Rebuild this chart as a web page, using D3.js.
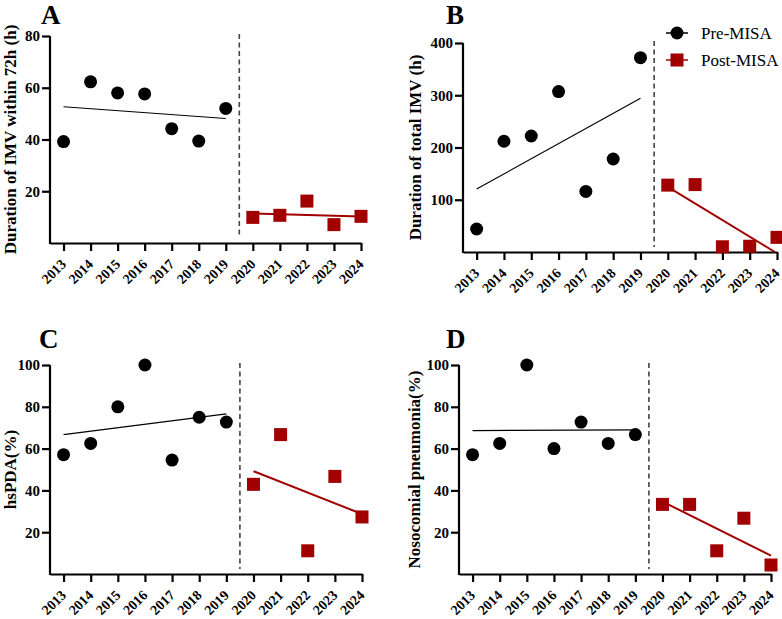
<!DOCTYPE html>
<html>
<head>
<meta charset="utf-8">
<script src="https://cdn.jsdelivr.net/npm/d3@7"></script>
<style>
  body { margin: 0; background: #fff; }
  text { font-family: "Liberation Serif", "Times New Roman", serif; }
</style>
</head>
<body>
<script>
var Width = 782;
var Height = 619;
var red = "#a10000";

// years
var preYears = [2013, 2014, 2015, 2016, 2017, 2018, 2019];
var postYears = [2020, 2021, 2022, 2023, 2024];
var allYears = preYears.concat(postYears);

// values
var preA = [39.2, 62.3, 58.0, 57.6, 44.2, 39.4, 52.0];
var postA = [9.9, 10.7, 16.2, 7.1, 10.3];
var preB = [44, 212, 222, 307, 116, 178, 372];
var postB = [128, 129, 10, 11, 28];
var preC = [57.1, 62.5, 80, 100, 54.5, 75, 72.7];
var postC = [42.9, 66.7, 11.1, 46.7, 27.3];
var preD = [57.1, 62.5, 100, 60, 72.7, 62.5, 66.7];
var postD = [33.3, 33.3, 11.1, 26.7, 4.3];

var ticksA = [20, 40, 60, 80];
var ticksB = [100, 200, 300, 400];
var ticksCD = [20, 40, 60, 80, 100];

var labels = ["A", "B", "C", "D"];
var titles = ["Duration of IMV within 72h (h)", "Duration of total IMV (h)", "hsPDA(%)", "Nosocomial pneumonia(%)"];
var legendNames = ["Pre-MISA", "Post-MISA"];

var panels = [
	{ label: labels[0], title: titles[0], pre: preA, post: postA, ymax: 80, ticks: ticksA,
		left: 50, right: 361, top: 36, bottom: 243, labelX: 41, labelY: 24, titleX: 15.5 },
	{ label: labels[1], title: titles[1], pre: preB, post: postB, ymax: 400, ticks: ticksB,
		left: 463, right: 777, top: 43, bottom: 252, labelX: 446, labelY: 24, titleX: 421 },
	{ label: labels[2], title: titles[2], pre: preC, post: postC, ymax: 100, ticks: ticksCD,
		left: 50, right: 362, top: 365, bottom: 574, labelX: 39, labelY: 348, titleX: 15.5 },
	{ label: labels[3], title: titles[3], pre: preD, post: postD, ymax: 100, ticks: ticksCD,
		left: 459, right: 771, top: 365, bottom: 574, labelX: 446, labelY: 348, titleX: 420 }
];

var svg = d3.select("body").append("svg")
	.attr("width", Width)
	.attr("height", Height);

// least squares line through the points
function fit(xs, ys) {
	var mx = d3.mean(xs), my = d3.mean(ys);
	var num = 0, den = 0;
	xs.forEach(function (x, i) {
		num += (x - mx) * (ys[i] - my);
		den += (x - mx) * (x - mx);
	});
	var b = num / den;
	return function (x) { return my + b * (x - mx); };
}

function drawPanel(p) {
	var g = svg.append("g");

	var x = d3.scaleLinear().domain([2012.5, 2024]).range([p.left, p.right]);
	var y = d3.scaleLinear().domain([0, p.ymax]).range([p.bottom, p.top]);

	// axes
	var xAxis = g.append("g")
		.attr("transform", "translate(0," + p.bottom + ")")
		.call(d3.axisBottom(x).tickValues(allYears).tickSize(8).tickSizeOuter(0).tickFormat(d3.format("d")));
	xAxis.select(".domain").attr("stroke-width", 2.2);
	xAxis.selectAll(".tick line").attr("stroke-width", 2.2);
	xAxis.selectAll(".tick text")
		.attr("font-size", 14)
		.attr("font-weight", "bold")
		.attr("font-family", "Liberation Serif")
		.attr("fill", "#000")
		.style("text-anchor", "end")
		.attr("y", 0)
		.attr("dy", 0)
		.attr("transform", "translate(3,22) rotate(-45)");

	var yAxis = g.append("g")
		.attr("transform", "translate(" + p.left + ",0)")
		.call(d3.axisLeft(y).tickValues(p.ticks).tickSize(8).tickSizeOuter(0).tickPadding(2));
	yAxis.select(".domain").attr("stroke-width", 2.2)
		.attr("d", "M0," + (p.bottom + 1) + "V" + p.top);
	yAxis.selectAll(".tick line").attr("stroke-width", 2.2);
	yAxis.selectAll(".tick text")
		.attr("font-size", 15)
		.attr("font-weight", "bold")
		.attr("font-family", "Liberation Serif")
		.attr("fill", "#000");

	// divider between periods
	g.append("line")
		.attr("x1", x(2019.5)).attr("x2", x(2019.5))
		.attr("y1", p.top - 2).attr("y2", p.bottom - 5)
		.attr("stroke", "#444")
		.attr("stroke-width", 1.6)
		.attr("stroke-dasharray", "5,3.5");

	// trend lines
	var fPre = fit(preYears, p.pre);
	g.append("line")
		.attr("x1", x(2013)).attr("y1", y(fPre(2013)))
		.attr("x2", x(2019)).attr("y2", y(fPre(2019)))
		.attr("stroke", "#000")
		.attr("stroke-width", 1.2);

	var fPost = fit(postYears, p.post);
	var endYear = 2024;
	if (fPost(2024) < 0) {
		// stop at the x axis
		var a = fPost(2020), b = fPost(2024);
		endYear = 2020 + 4 * a / (a - b);
	}
	g.append("line")
		.attr("x1", x(2020)).attr("y1", y(fPost(2020)))
		.attr("x2", x(endYear)).attr("y2", y(fPost(endYear)))
		.attr("stroke", red)
		.attr("stroke-width", 2);

	// points
	g.selectAll("circle.pre")
		.data(p.pre)
		.enter()
		.append("circle")
		.attr("class", "pre")
		.attr("cx", function (d, i) { return x(preYears[i]); })
		.attr("cy", function (d) { return y(d); })
		.attr("r", 6.5)
		.attr("fill", "#000");

	g.selectAll("rect.post")
		.data(p.post)
		.enter()
		.append("rect")
		.attr("class", "post")
		.attr("x", function (d, i) { return x(postYears[i]) - 6.5; })
		.attr("y", function (d) { return y(d) - 6.5; })
		.attr("width", 13)
		.attr("height", 13)
		.attr("fill", red);

	// panel letter
	g.append("text")
		.attr("x", p.labelX)
		.attr("y", p.labelY)
		.attr("font-size", 27)
		.attr("font-weight", "bold")
		.text(p.label);

	// y title
	g.append("text")
		.attr("transform", "translate(" + p.titleX + "," + ((p.top + p.bottom) / 2) + ") rotate(-90)")
		.attr("text-anchor", "middle")
		.attr("font-size", 17)
		.attr("font-weight", "bold")
		.text(p.title);
}

panels.forEach(drawPanel);

// legend
var legend = svg.append("g");
var lx = 666, ly = [33, 60];
legend.selectAll("line")
	.data(legendNames)
	.enter()
	.append("line")
	.attr("x1", lx).attr("x2", lx + 22)
	.attr("y1", function (d, i) { return ly[i]; })
	.attr("y2", function (d, i) { return ly[i]; })
	.attr("stroke", function (d, i) { return i == 0 ? "#000" : red; })
	.attr("stroke-width", 1.5);
legend.append("circle")
	.attr("cx", lx + 11).attr("cy", ly[0]).attr("r", 6.5).attr("fill", "#000");
legend.append("rect")
	.attr("x", lx + 11 - 6.5).attr("y", ly[1] - 6.5)
	.attr("width", 13).attr("height", 13).attr("fill", red);
legend.selectAll("text")
	.data(legendNames)
	.enter()
	.append("text")
	.attr("x", lx + 35)
	.attr("y", function (d, i) { return ly[i] + 6; })
	.attr("font-size", 17)
	.text(function (d) { return d; });
</script>
</body>
</html>
